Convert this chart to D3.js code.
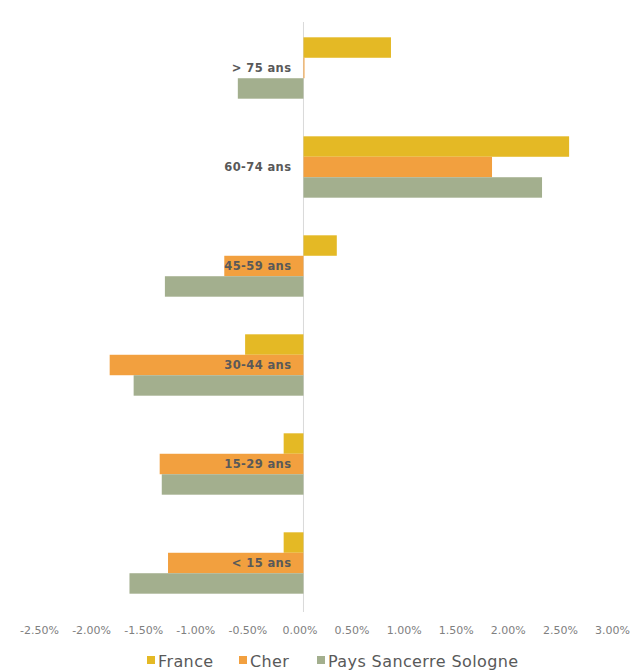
<!DOCTYPE html>
<meta charset="utf-8">
<style>
    body { margin: 0; background: #fff; }
    .tick text { font-family: "DejaVu Sans", sans-serif; font-size: 11px; fill: #808080; }
    .cat { font-family: "DejaVu Sans", sans-serif; font-size: 11.5px; font-weight: bold; fill: #595959; letter-spacing: 0.4px; }
    .legend text { font-family: "DejaVu Sans", sans-serif; font-size: 16px; fill: #595959; letter-spacing: 0.4px; }
</style>
<svg width="640" height="671"></svg>
<script src="https://d3js.org/d3.v7.min.js"></script>
<script>

    var categories = ["> 75 ans", "60-74 ans", "45-59 ans", "30-44 ans", "15-29 ans", "< 15 ans"];
    var seriesNames = ["France", "Cher", "Pays Sancerre Sologne"];
    var france = [0.84, 2.55, 0.32, -0.56, -0.19, -0.19];
    var cher = [0.01, 1.81, -0.76, -1.86, -1.38, -1.30];
    var pays = [-0.63, 2.29, -1.33, -1.63, -1.36, -1.67];
    var tickValues = [-2.5, -2.0, -1.5, -1.0, -0.5, 0, 0.5, 1.0, 1.5, 2.0, 2.5, 3.0];
    var colors = ["#e4b925", "#f2a03f", "#a3af8e"];

    var svg = d3.select("svg");

    var x = d3.scaleLinear().domain([-2.5, 3.0]).range([43, 616]);
    var y = d3.scaleBand().domain(categories).range([18.5, 612.5])
        .paddingInner(0.38).paddingOuter(0.19);
    var ySub = d3.scaleBand().domain(seriesNames).range([0, y.bandwidth()]);

    var allSeries = [france, cher, pays];

    // zero line
    svg.append("line")
        .attr("x1", x(0)).attr("x2", x(0))
        .attr("y1", 22).attr("y2", 612)
        .attr("stroke", "#d9d9d9")
        .attr("stroke-width", 1);

    var groups = svg.selectAll(".grp")
        .data(categories)
        .enter().append("g")
        .attr("class", "grp")
        .attr("transform", function(d) { return "translate(0," + y(d) + ")"; });

    groups.selectAll("rect")
        .data(function(d, i) {
            return allSeries.map(function(s, j) { return {name: seriesNames[j], value: s[i], color: colors[j]}; });
        })
        .enter().append("rect")
        .attr("x", function(d) { return x(Math.min(0, d.value)); })
        .attr("y", function(d) { return ySub(d.name); })
        .attr("width", function(d) { return Math.abs(x(d.value) - x(0)); })
        .attr("height", ySub.bandwidth())
        .attr("fill", function(d) { return d.color; });

    groups.append("text")
        .attr("class", "cat")
        .attr("x", x(0) - 12)
        .attr("y", y.bandwidth() / 2)
        .attr("dy", "0.35em")
        .attr("text-anchor", "end")
        .text(function(d) { return d; });

    var fmt = d3.format(".2f");
    var xAxis = d3.axisBottom(x)
        .tickValues(tickValues)
        .tickSize(0)
        .tickPadding(0)
        .tickFormat(function(d) { return fmt(d).replace("\u2212", "-") + "%"; });

    // labels sit a few px left of their tick, like the original
    svg.append("g")
        .attr("transform", "translate(-4,626)")
        .call(xAxis)
        .call(function(g) { g.select(".domain").remove(); });

    var legendX = [147, 239, 317];
    var legend = svg.append("g").attr("class", "legend")
        .selectAll("g")
        .data(seriesNames)
        .enter().append("g")
        .attr("transform", function(d, i) { return "translate(" + legendX[i] + ",661)"; });

    legend.append("rect")
        .attr("x", 0).attr("y", -5)
        .attr("width", 8).attr("height", 8)
        .attr("fill", function(d, i) { return colors[i]; });

    legend.append("text")
        .attr("x", 11)
        .attr("y", 0)
        .attr("dy", "0.35em")
        .text(function(d) { return d; });

</script>
